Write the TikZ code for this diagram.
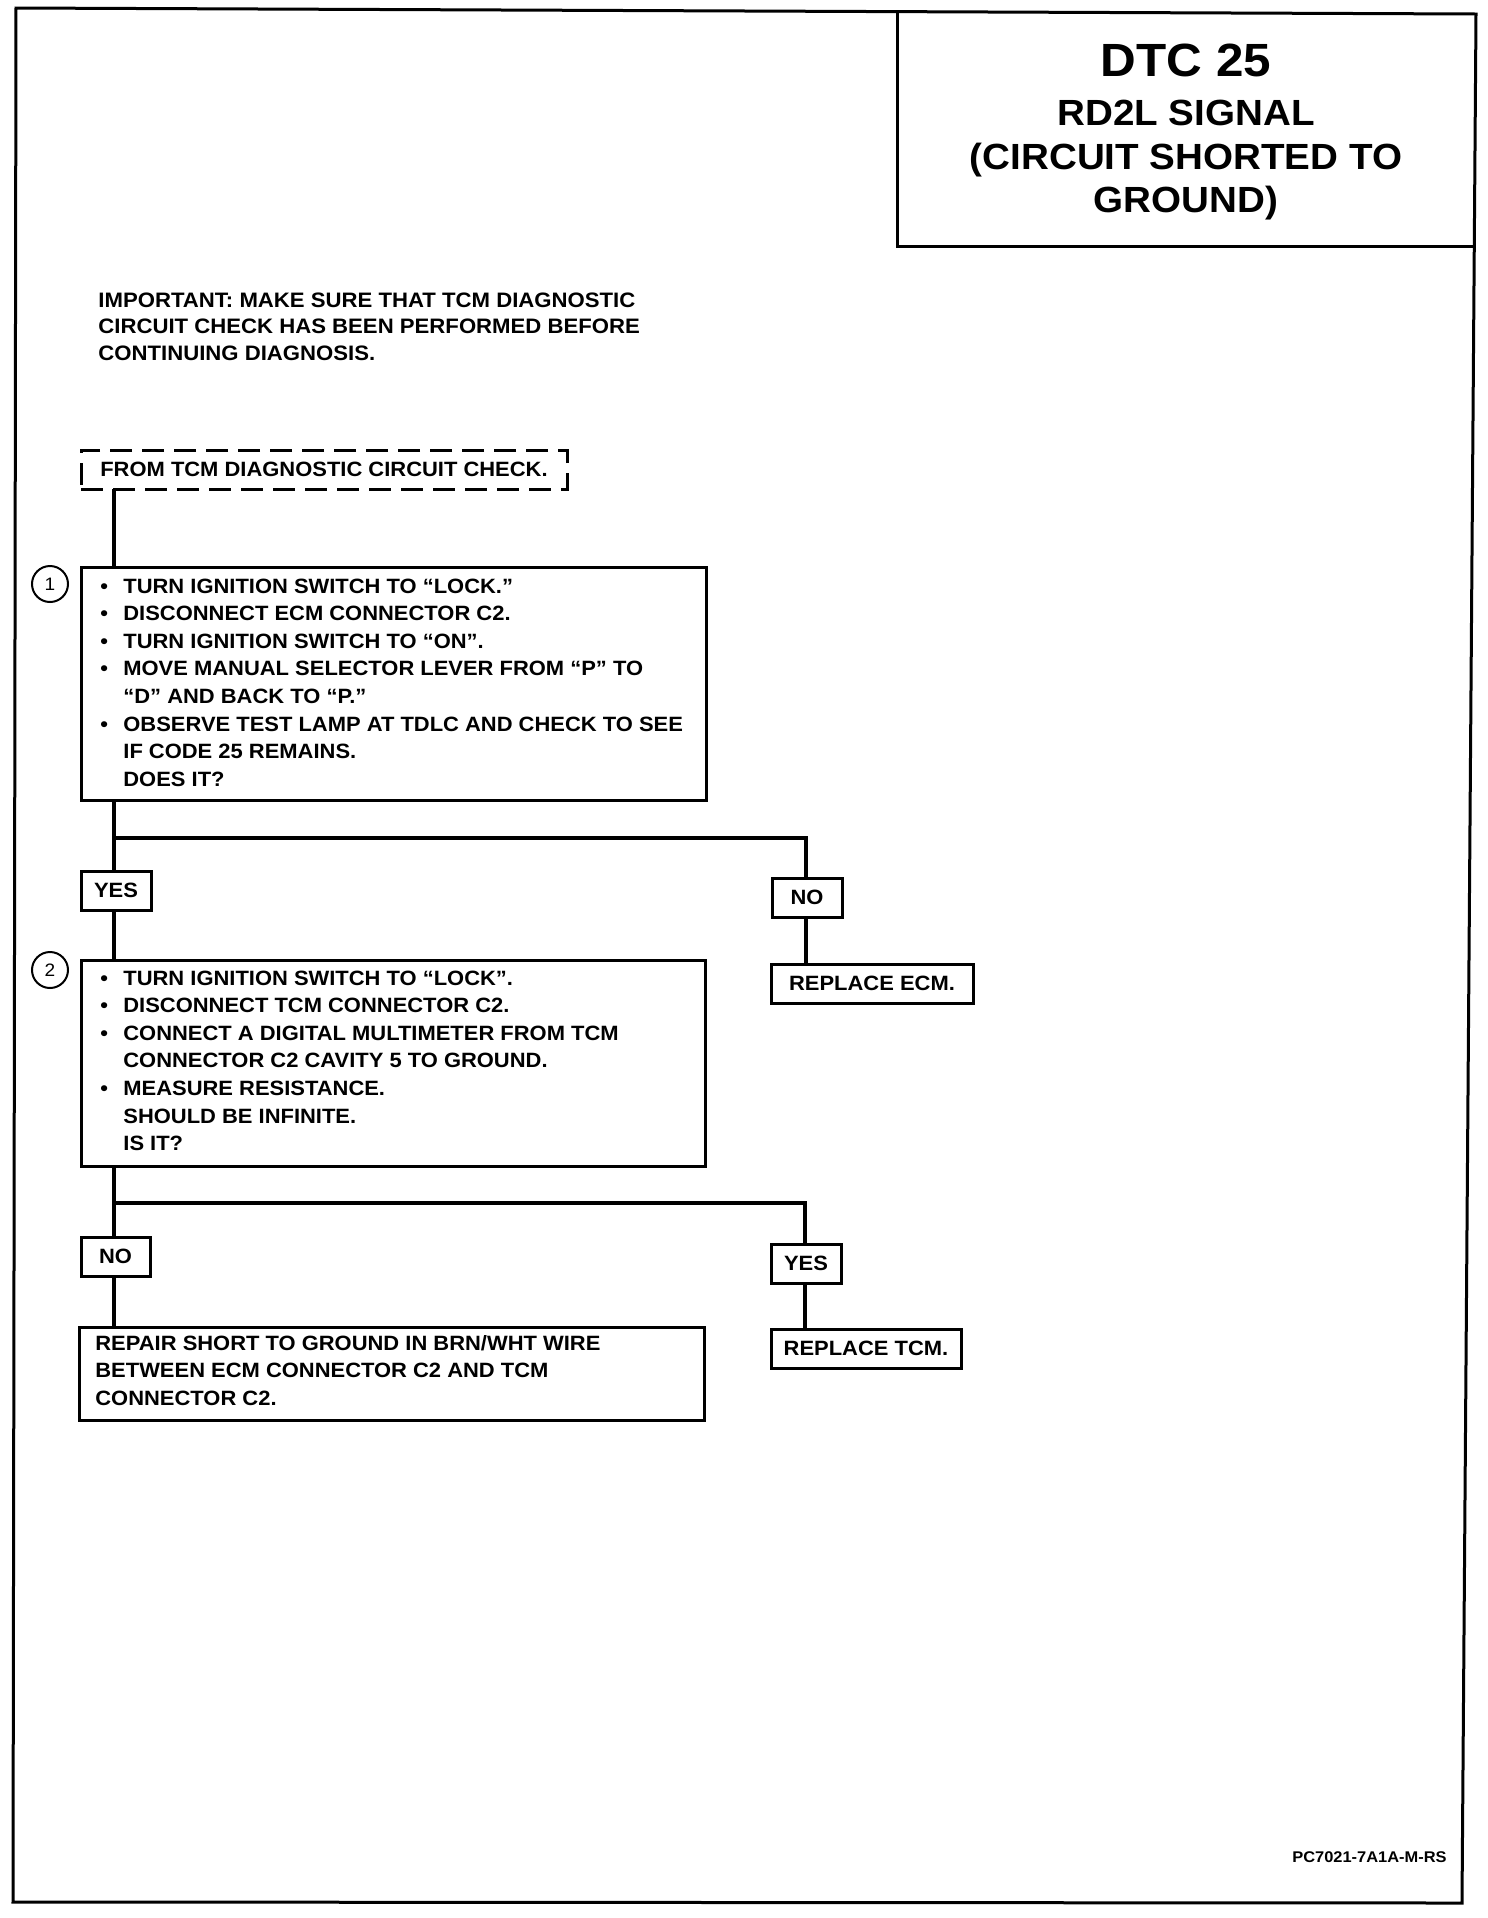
\documentclass[tikz,border=0pt]{standalone}
\usepackage{fontspec}
\setmainfont{Liberation Sans}[FakeStretch=1.06]
\newcommand\bodyfont{\fontsize{10.35pt}{13.8pt}\selectfont\bfseries}
\newcommand\impfont{\fontsize{10.45pt}{13.25pt}\selectfont\bfseries}
\newcommand\dtcfont{\fontsize{23.3pt}{26pt}\selectfont\bfseries}
\newcommand\ttlfont{\fontsize{18.2pt}{22pt}\selectfont\bfseries}
\newcommand\numfont{\fontsize{9pt}{10pt}\selectfont}
\newcommand\codefont{\fontsize{7.75pt}{9pt}\selectfont\bfseries}
\newcommand\bul{\makebox[11.5pt][l]{•}}
\newcommand\ind{\hspace*{11.5pt}}
\begin{document}
\begin{tikzpicture}[x=0.5pt,y=-0.5pt,
  boxline/.style={draw, line width=1.5pt, inner sep=0pt, outer sep=0pt, anchor=north west},
  dashbox/.style={draw, line width=1.5pt, dash pattern=on 11pt off 5pt, inner sep=0pt, outer sep=0pt, anchor=north west, font=\bodyfont},
  lblbox/.style={draw, line width=1.5pt, inner sep=0pt, outer sep=0pt, anchor=north west, font=\bodyfont},
  conn/.style={line width=2pt, line join=miter},
  txt/.style={inner sep=0pt, anchor=base west},
  ttl/.style={inner sep=0pt, anchor=base},
  num/.style={circle, draw, line width=1pt, minimum size=18pt, inner sep=0pt, font=\numfont}]
\useasboundingbox (0,0) rectangle (1488,1918);
% outer frame
\draw[line width=1.5pt, line join=miter] (16,8) -- (1476,14) -- (1462,1903) -- (13,1902) -- cycle;
% title box (top and right edges are the frame's)
\node[inner sep=0pt, outer sep=0pt, anchor=north west, minimum width=289.5pt, minimum height=117pt] (title) at (897,12) {};
\draw[line width=1.5pt, line join=miter] (title.north west) -- (title.south west) -- (title.south east);
\node[ttl, font=\dtcfont] (t1) at (1186,76) {DTC 25};
\node[ttl, font=\ttlfont] (t2) at (1186,125) {RD2L SIGNAL};
\node[ttl, font=\ttlfont] (t3) at (1186,169) {(CIRCUIT SHORTED TO};
\node[ttl, font=\ttlfont] (t4) at (1186,212) {GROUND)};
% important note
\node[txt] (imp) at (98,307) {\parbox[t]{300pt}{\impfont\raggedright
IMPORTANT: MAKE SURE THAT TCM DIAGNOSTIC\\
CIRCUIT CHECK HAS BEEN PERFORMED BEFORE\\
CONTINUING DIAGNOSIS.}};
% junction coordinates
\coordinate (j0) at (114,838);
\coordinate (j1) at (114,1203);
% start box
\node[dashbox, minimum width=243pt, minimum height=19.5pt] (ft) at (81,450) {FROM TCM DIAGNOSTIC CIRCUIT CHECK.};
% step 1
\node[boxline, minimum width=312.5pt, minimum height=116.5pt] (b1) at (81,567) {};
\node[txt] (b1t) at (100,593) {\parbox[t]{330pt}{\bodyfont\raggedright
\bul TURN IGNITION SWITCH TO “LOCK.”\\
\bul DISCONNECT ECM CONNECTOR C2.\\
\bul TURN IGNITION SWITCH TO “ON”.\\
\bul MOVE MANUAL SELECTOR LEVER FROM “P” TO\\
\ind “D” AND BACK TO “P.”\\
\bul OBSERVE TEST LAMP AT TDLC AND CHECK TO SEE\\
\ind IF CODE 25 REMAINS.\\
\ind DOES IT?}};
\node[num] (c1) at (50,584) {1};
% answers step 1
\node[lblbox, minimum width=35pt, minimum height=19.5pt] (yes1) at (81,871) {YES};
\node[lblbox, minimum width=35pt, minimum height=19.5pt] (no1) at (772,878) {NO};
\node[lblbox, minimum width=101pt, minimum height=19.5pt] (recm) at (771,964) {REPLACE ECM.};
% step 2
\node[boxline, minimum width=312pt, minimum height=103pt] (b2) at (81,960) {};
\node[txt] (b2t) at (100,985) {\parbox[t]{330pt}{\bodyfont\raggedright
\bul TURN IGNITION SWITCH TO “LOCK”.\\
\bul DISCONNECT TCM CONNECTOR C2.\\
\bul CONNECT A DIGITAL MULTIMETER FROM TCM\\
\ind CONNECTOR C2 CAVITY 5 TO GROUND.\\
\bul MEASURE RESISTANCE.\\
\ind SHOULD BE INFINITE.\\
\ind IS IT?}};
\node[num] (c2) at (50,970) {2};
% answers step 2
\node[lblbox, minimum width=34.5pt, minimum height=19.5pt] (no2) at (81,1237) {NO};
\node[lblbox, minimum width=35pt, minimum height=19.5pt] (yes2) at (771,1244) {YES};
\node[lblbox, minimum width=95pt, minimum height=19.5pt] (rtcm) at (771,1329) {REPLACE TCM.};
\node[boxline, minimum width=312.5pt, minimum height=46.5pt] (rep) at (79,1327) {};
\node[txt] (rept) at (95,1350) {\parbox[t]{330pt}{\bodyfont\raggedright
REPAIR SHORT TO GROUND IN BRN/WHT WIRE\\
BETWEEN ECM CONNECTOR C2 AND TCM\\
CONNECTOR C2.}};
% code
\node[inner sep=0pt, anchor=base east, font=\codefont] (code) at (1447,1862) {PC7021-7A1A-M-RS};
% connectors
\draw[conn] (ft.south -| j0) -- (b1.north -| j0);
\draw[conn] (b1.south -| j0) -- (j0) -- (j0 -| 806,0) -- (no1.north -| 806,0);
\draw[conn] (j0) -- (yes1.north -| j0);
\draw[conn] (yes1.south -| j0) -- (b2.north -| j0);
\draw[conn] (no1.south -| 806,0) -- (recm.north -| 806,0);
\draw[conn] (b2.south -| j1) -- (j1) -- (j1 -| 805,0) -- (yes2.north -| 805,0);
\draw[conn] (j1) -- (no2.north -| j1);
\draw[conn] (no2.south -| j1) -- (rep.north -| j1);
\draw[conn] (yes2.south -| 805,0) -- (rtcm.north -| 805,0);
\end{tikzpicture}
\end{document}
